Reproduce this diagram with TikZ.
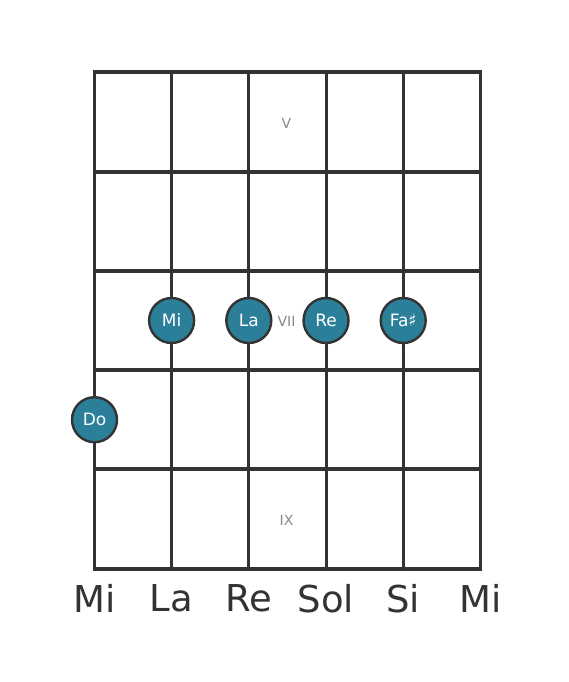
\documentclass[tikz,border=0pt]{standalone}
\usepackage{fontspec}
\setmainfont{DejaVu Sans}
\usepackage{tikz}
\definecolor{noteFill}{HTML}{2B7F99}
\definecolor{darkLine}{HTML}{333333}
\definecolor{fretGray}{HTML}{888888}
\tikzstyle{note} = [circle,draw=darkLine,line width=2.4pt,fill=noteFill,text=white,minimum size=45pt,inner sep=0pt,font=\fontsize{17}{17}\selectfont]
\tikzstyle{fretLabel} = [text=fretGray,font=\fontsize{14}{14}\selectfont]
\tikzstyle{stringLabel} = [text=darkLine,font=\fontsize{37}{37}\selectfont]
\tikzstyle{fret} = [draw=darkLine,line width=4pt]
\tikzstyle{string} = [draw=darkLine,line width=3pt]
\begin{document}
\begin{tikzpicture}[x=1pt,y=-1pt]
		\useasboundingbox (0,0) rectangle (568,682);
		%strings
		\foreach \x in {94.5,171.6,248.8,326,403.2,480.5}
			\path[string](\x,72)--(\x,568.5);
		%frets
		\foreach \y in {72.5,171.7,270.9,370.1,469.3,568.5}
			\path[fret](93,\y)--(482,\y);
		%fret numbers
		\node[fretLabel](fretV) at (286.5,123.5){V};
		\node[fretLabel](fretVII) at (286.5,321){VII};
		\node[fretLabel](fretIX) at (286.5,520.5){IX};
		%notes
		\node[note](noteMi) at (171.6,320.5){Mi};
		\node[note](noteLa) at (248.8,320.5){La};
		\node[note](noteRe) at (326,320.5){Re};
		\node[note](noteFa) at (403.2,320.5){Fa♯};
		\node[note](noteDo) at (94.5,419.7){Do};
		%open strings
		\node[stringLabel](stringMiLow) at (94.5,598.5){Mi};
		\node[stringLabel](stringLa) at (171.6,598.5){La};
		\node[stringLabel](stringRe) at (248.8,598.5){Re};
		\node[stringLabel](stringSol) at (326,598.5){Sol};
		\node[stringLabel](stringSi) at (403.2,598.5){Si};
		\node[stringLabel](stringMiHigh) at (480.5,598.5){Mi};
	\end{tikzpicture}
\end{document}
